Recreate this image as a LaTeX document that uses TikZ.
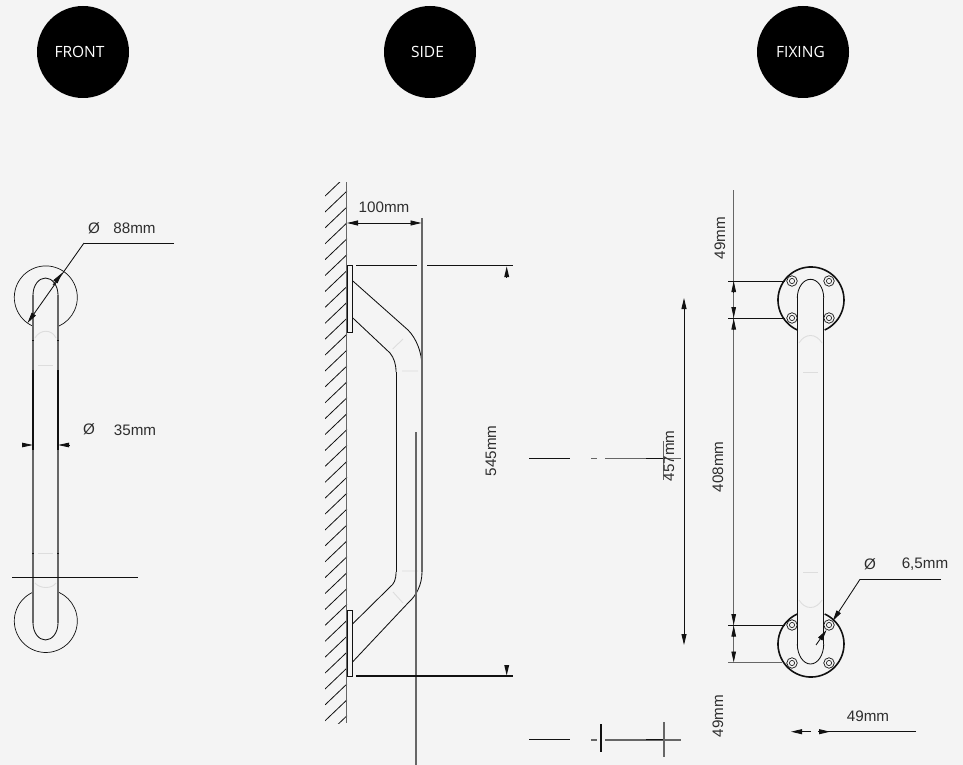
\documentclass[tikz,border=0pt]{standalone}
\usepackage{fontspec}
\setmainfont{Liberation Sans}
\newfontfamily\badgefont{Open Sans}
\usetikzlibrary{arrows.meta}
\definecolor{pagebg}{HTML}{F4F4F4}
\definecolor{ink}{HTML}{111111}
\definecolor{midgrey}{HTML}{666666}
\definecolor{faint}{HTML}{DDDDDD}
\tikzset{
  x=1pt,y=-1pt,
  badge/.style={circle,fill=black,minimum size=92pt,inner sep=0pt,text=white},
  badgetext/.style={inner sep=0pt,text=white,font=\badgefont\fontsize{15.5}{18}\selectfont},
  dimtext/.style={inner sep=0pt,text=black!82,font=\fontsize{15.2}{17}\selectfont},
  rottext/.style={dimtext,rotate=90},
  thin line/.style={draw=ink,line width=0.85pt},
  grey line/.style={draw=midgrey,line width=1.2pt},
  light line/.style={draw=faint,line width=0.9pt},
  plate/.style={draw=ink,line width=1.6pt},
  tip/.style={thin line,-{Triangle[length=11pt,width=5pt]}},
  shorttip/.style={thin line,-{Triangle[length=11pt,width=4.5pt]}},
  screw/.style={draw=ink,line width=0.7pt,circle,minimum size=10.5pt,inner sep=0pt,
     path picture={\draw[ink,line width=0.6pt] (path picture bounding box.center) circle[radius=2.6pt];}},
}
\begin{document}
\begin{tikzpicture}
\useasboundingbox[fill=pagebg] (0,0) rectangle (963,765);
% badges
\node[badge] (bfront) at (83,52) {};
\node[badge] (bside) at (430,52) {};
\node[badge] (bfix) at (803,52) {};
\node[badgetext] (lfront) at (79.5,52) {FRONT};
\node[badgetext] (lside) at (427.5,52) {SIDE};
\node[badgetext] (lfix) at (800.5,52) {FIXING};

% ---------- FRONT
\draw[thin line,line width=0.7pt] (33,326.2) arc[start angle=114,delta angle=312,radius=31.5];
\draw[thin line,line width=0.7pt] (33,592.2) arc[start angle=246,delta angle=-312,radius=31.5];
\draw[thin line] (33,295) arc[start angle=180,end angle=360,x radius=12.5,y radius=17];
\draw[thin line] (33,623) arc[start angle=180,end angle=0,x radius=12.5,y radius=17];
\draw[grey line] (33,295) -- (33,370) (58,295) -- (58,370);
\draw[thin line,line width=1.1pt] (33,370) -- (33,450) (58,370) -- (58,450);
\draw[grey line] (33,450) -- (33,623) (58,450) -- (58,623);
\draw[light line] (35,338) .. controls (40,329) and (52,329) .. (56,338);
\draw[light line] (38,365) -- (53,365) (38,553) -- (53,553);
\draw[light line] (35,583) .. controls (40,589) and (52,589) .. (56,583);
\draw[thin line] (32,340) -- (34,340) (57,340) -- (59,340) (32,553) -- (34,553) (57,553) -- (59,553);
\coordinate (f88a) at (174,243);
\coordinate (f88b) at (84,243);
\coordinate (f88c) at (27.5,323);
\draw[thin line] (f88a) -- (f88b);
\draw[tip] (f88b) -- (f88c);
\draw[tip] (53,285) -- (62,273);
\node[dimtext] (t88o) at (94,228) {Ø};
\node[dimtext] (t88) at (134.5,228) {88mm};
\draw[shorttip] (22,445) -- (33,445);
\draw[shorttip] (69,445) -- (58,445);
\node[dimtext] (t35o) at (89,429) {Ø};
\node[dimtext] (t35) at (135,430) {35mm};
\draw[thin line,line width=1.1pt] (12,577.7) -- (138,577.7);

% ---------- SIDE
\begin{scope}
\clip (325,182) rectangle (347,723);
\foreach \k in {-1,...,33}{
  \draw[thin line,line width=0.8pt] (347,{191+15.9*\k}) -- (325,{212+15.9*\k});
}
\end{scope}
\draw[grey line] (346.7,182) -- (346.7,723);
\draw[thin line,line width=0.7pt] (347,265.5) rectangle (352.5,332);
\draw[thin line,line width=0.7pt] (347,610) rectangle (352.5,676);
\draw[thin line] (352.5,280.7) -- (408,330) .. controls (416,338) and (422,352) .. (422,367);
\draw[thin line] (352.5,317.7) -- (390,353) .. controls (394,358) and (396,364) .. (396,372);
\draw[thin line] (396,372) -- (396,572);
\draw[grey line] (422,218) -- (422,572);
\draw[thin line] (396,572) .. controls (396,580) and (394,584) .. (390,587) -- (352.5,624);
\draw[thin line] (422,572) .. controls (422,585) and (416,596) .. (408,603) -- (352.5,662);
\draw[light line] (392.7,349) -- (403,339) (402,371) -- (418,371) (402,571) -- (418,571) (393,592) -- (403,603);
\draw[grey line] (416,432) -- (416,765);
\draw[tip] (384,223) -- (347,223);
\draw[tip] (384,223) -- (421.5,223);
\node[dimtext] (t100) at (384,207.5) {100mm};
\draw[thin line] (356,265.7) -- (417,265.7) (427,265.7) -- (513,265.7);
\draw[thin line,line width=1.1pt] (356,676) -- (513,676);
\draw[thin line,-{Triangle[length=10.5pt,width=5pt]},line width=0pt] (506.7,277) -- (506.7,266.5);
\draw[thin line,-{Triangle[length=10.5pt,width=5pt]},line width=0pt] (506.7,665) -- (506.7,675.5);
\node[rottext] (t545) at (491,451) {545mm};

% ---------- centre marks
\draw[thin line] (529,458) -- (570,458);
\draw[grey line] (591,458.5) -- (597,458.5) (605,458.5) -- (681,458.5);
\draw[thin line,line width=1.2pt] (646,458.5) -- (665,458.5);
\draw[grey line] (663.3,441) -- (663.3,480);
\node[rottext] (t457) at (669,456) {457mm};
\draw[thin line] (529,739) -- (570,739);
\draw[grey line] (591,740) -- (597,740) (605,740) -- (681,740);
\draw[thin line,line width=1.2pt] (646,739.5) -- (664,739.5);
\draw[thin line,line width=1.1pt] (601,724) -- (601,752);
\draw[grey line] (664,722) -- (664,757);
\draw[tip] (684,470) -- (684,298);
\draw[tip] (684,470) -- (684,645);

% ---------- FIXING
\draw[grey line] (733.7,190) -- (733.7,660);
\draw[plate] (797.3,330) arc[start angle=114.5,delta angle=311,radius=33];
\draw[plate] (797.3,614) arc[start angle=245.5,delta angle=-311,radius=33];
\draw[thin line] (797.3,298) arc[start angle=180,end angle=360,x radius=13.2,y radius=18.7];
\draw[thin line] (797.3,644) arc[start angle=180,end angle=0,x radius=13.2,y radius=20];
\draw[thin line] (797.3,298) -- (797.3,644) (823.7,298) -- (823.7,644);
\draw[light line] (799,343) .. controls (805,333) and (816,333) .. (822,343);
\draw[light line] (803,372) -- (818,372) (803,572) -- (818,572);
\draw[light line] (799,600) .. controls (805,610) and (816,610) .. (822,600);
\foreach \n/\px/\py in {s1/792/281,s2/829/281,s3/792/318,s4/829/318,s5/792/625,s6/829/625,s7/792/663,s8/829/663}{
  \node[screw] (\n) at (\px,\py) {};
}
\draw[thin line] (728,281) -- (785,281) (728,318.3) -- (785,318.3) (728,625.3) -- (785,625.3);
\draw[grey line] (728,662.7) -- (782,662.7);
\draw[shorttip] (733.7,292.7) -- (733.7,281);
\draw[shorttip] (733.7,307) -- (733.7,318);
\draw[shorttip] (733.7,330) -- (733.7,318.5);
\draw[shorttip] (733.7,614) -- (733.7,625);
\draw[shorttip] (733.7,637) -- (733.7,625.5);
\draw[shorttip] (733.7,652) -- (733.7,662.5);
\node[rottext] (t49a) at (720,238) {49mm};
\node[rottext] (t408) at (718,467) {408mm};
\node[rottext] (t49b) at (718,716) {49mm};
\coordinate (l1) at (941,579.3);
\coordinate (l2) at (860,579.3);
\coordinate (l3) at (832.7,621);
\draw[thin line] (l1) -- (l2);
\draw[tip] (l2) -- (l3);
\draw[tip] (816,645) -- (826.5,630);
\node[dimtext] (t65o) at (870,564) {Ø};
\node[dimtext] (t65) at (925,564) {6,5mm};
\draw[thin line] (916,731.7) -- (818,731.7);
\draw[tip] (811,731.7) -- (791,731.7);
\draw[tip] (818,731.7) -- (830,731.7);
\node[dimtext] (t49c) at (868,716) {49mm};
\end{tikzpicture}
\end{document}
